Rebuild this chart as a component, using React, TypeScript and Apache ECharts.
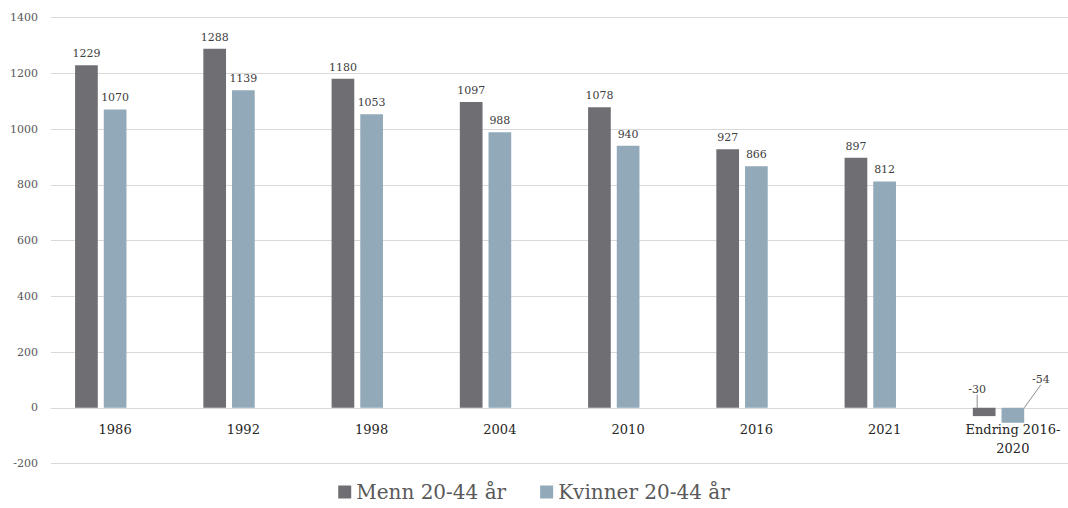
import React, { useEffect, useRef } from "react";
import * as echarts from "echarts";

const categories = ["1986", "1992", "1998", "2004", "2010", "2016", "2021", "Endring 2016-2020"];
const menn = [1229, 1288, 1180, 1097, 1078, 927, 897, -30];
const kvinner = [1070, 1139, 1053, 988, 940, 866, 812, -54];
const placeholder: (number | null)[] = [null, null, null, null, null, null, null, null];
const seriesNames = ["Menn 20-44 år", "Kvinner 20-44 år"];
const yTicks = { min: -200, max: 1400, interval: 200 };

const FONT = "DejaVu Serif";

export default function App() {
  const ref = useRef<HTMLDivElement>(null);
  useEffect(() => {
    document.body.style.margin = "0";
    const chart = echarts.init(ref.current!, undefined, { renderer: "svg" });
    const lastIdx = categories.length - 1;
    const labelStyle = {
      show: true,
      position: "top",
      distance: 6,
      fontFamily: FONT,
      fontSize: 11,
      color: "#404040",
    };
    const withLine = (arr: number[]) =>
      arr.map((v, i) =>
        i === lastIdx
          ? { value: v, labelLine: { show: true, lineStyle: { color: "#8c8c8c", width: 1 } } }
          : { value: v, labelLine: { show: false } }
      );
    chart.setOption({
      animation: false,
      textStyle: { fontFamily: FONT },
      grid: {
        left: 51,
        right: -9,
        top: 17.5,
        bottom: 44.5,
        containLabel: false,
        outerBoundsMode: "none",
      },
      legend: {
        bottom: 1,
        left: "center",
        itemWidth: 13,
        itemHeight: 13,
        itemGap: 34,
        icon: "rect",
        data: seriesNames,
        textStyle: { fontFamily: FONT, fontSize: 20, color: "#595959" },
      },
      xAxis: {
        type: "category",
        data: categories,
        axisLine: { onZero: true, lineStyle: { color: "#d9d9d9" } },
        axisTick: { show: false },
        axisLabel: {
          fontFamily: FONT,
          fontSize: 13,
          color: "#262626",
          margin: -44,
          lineHeight: 19,
          interval: 0,
          formatter: (v: string) => v.replace("2016-", "2016-\n"),
        },
      },
      yAxis: {
        type: "value",
        min: yTicks.min,
        max: yTicks.max,
        interval: yTicks.interval,
        axisLine: { show: false },
        axisTick: { show: false },
        axisLabel: {
          fontFamily: FONT,
          fontSize: 11,
          color: "#595959",
          margin: 13,
          formatter: (v: number) => String(v),
        },
        splitLine: { lineStyle: { color: "#d9d9d9" } },
      },
      series: [
        {
          name: seriesNames[0],
          type: "bar",
          data: withLine(menn),
          barWidth: 22.7,
          barGap: "26.4%",
          itemStyle: { color: "#6f6e73" },
          label: labelStyle,
          labelLayout: (p: any) =>
            p.dataIndex === lastIdx ? { dy: -7, dx: -7 } : {},
        },
        {
          name: seriesNames[1],
          type: "bar",
          data: withLine(kvinner),
          barWidth: 22.7,
          barGap: "26.4%",
          itemStyle: { color: "#91a9b9" },
          label: labelStyle,
          labelLayout: (p: any) =>
            p.dataIndex === lastIdx ? { dx: 28, dy: -17 } : {},
        },
        {
          name: "hidden",
          type: "bar",
          data: placeholder,
          barWidth: 22.7,
          barGap: "26.4%",
          itemStyle: { color: "transparent" },
        },
      ],
    });
    return () => chart.dispose();
  }, []);
  return <div ref={ref} style={{ width: 1068, height: 508 }} />;
}
